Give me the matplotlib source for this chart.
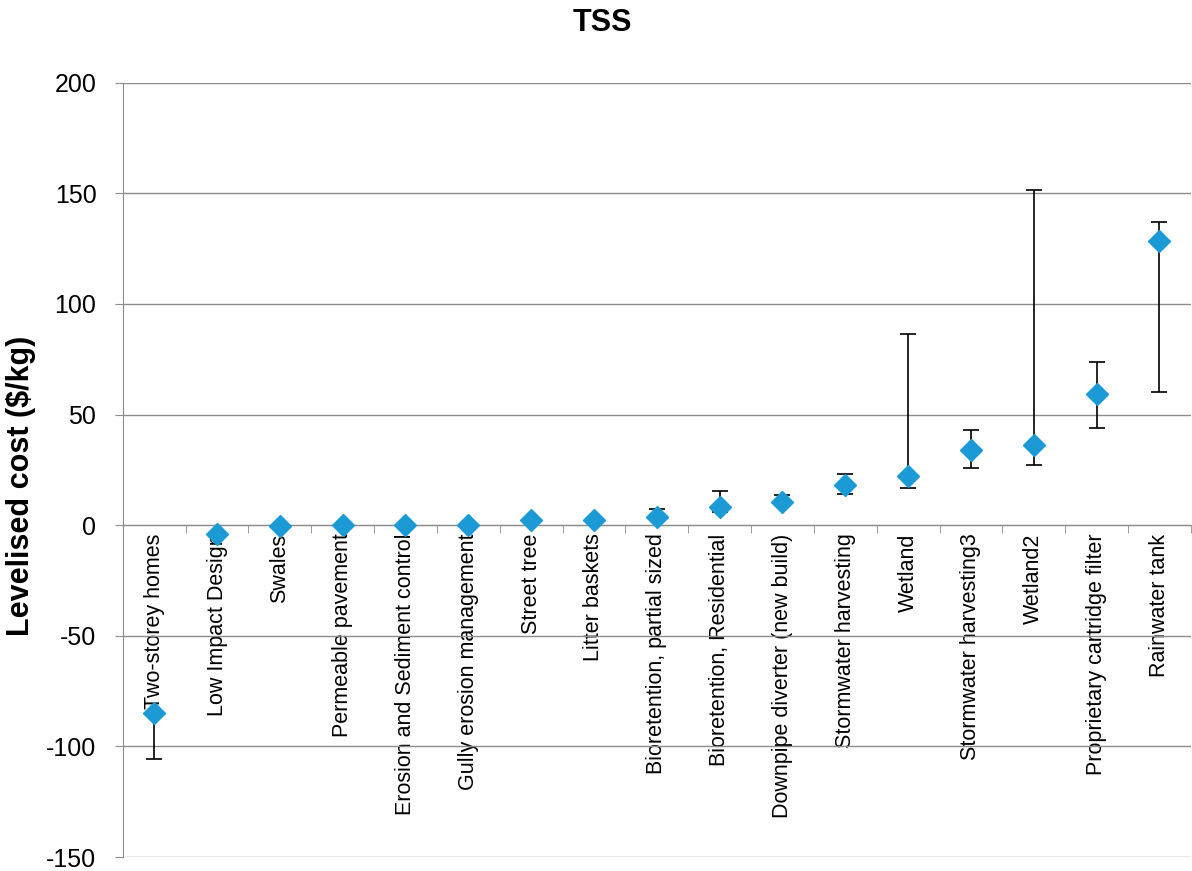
import numpy as np
import matplotlib.pyplot as plt
from matplotlib.ticker import MultipleLocator

plt.rcParams['font.family'] = ['Liberation Sans', 'DejaVu Sans']
plt.rcParams['axes.unicode_minus'] = False

categories = ['Two-storey homes', 'Low Impact Design', 'Swales', 'Permeable pavement',
              'Erosion and Sediment control', 'Gully erosion management', 'Street tree',
              'Litter baskets', 'Bioretention, partial sized', 'Bioretention, Residential',
              'Downpipe diverter (new build)', 'Stormwater harvesting', 'Wetland',
              'Stormwater harvesting3', 'Wetland2', 'Proprietary cartridge filter',
              'Rainwater tank']
cost = [-85, -4, -0.5, 0, 0, 0, 2.4, 2.4, 3.9, 8.4, 10.7, 18.2, 22.3, 34, 36.3, 59.2, 128.3]
cost_low = [-105.5, -4, -0.5, 0, 0, 0, 2.4, 2.4, 2.5, 6.0, 9.0, 14.2, 17.0, 26.0, 27.0, 43.9, 60.0]
cost_high = [-85, -4, -0.5, 0, 0, 0, 2.4, 2.4, 7.2, 15.5, 13.7, 23.2, 86.4, 43.0, 151.3, 73.7, 136.9]

x = np.arange(len(categories))
cost = np.array(cost)
yerr = [cost - np.array(cost_low), np.array(cost_high) - cost]

fig = plt.figure(figsize=(11.92, 8.71), dpi=100)
ax = fig.add_axes([0.103, 0.016, 0.896, 0.889])

ax.errorbar(x, cost, yerr=yerr, fmt='none', ecolor='black', elinewidth=1.2,
            capsize=6, capthick=1.2, zorder=3)
ax.plot(x, cost, linestyle='none', marker='D', markersize=11,
        color='#1b9ad6', markeredgecolor='#1b9ad6', zorder=4)

ax.set_xlim(-0.5, len(categories) - 0.5)
ax.set_ylim(-150, 200)
ax.yaxis.set_major_locator(MultipleLocator(50))
ax.grid(axis='y', color='#8c8c8c', linewidth=1)
ax.set_axisbelow(True)

# x axis sits on the zero line, labels hang below it
for s in ['top', 'right']:
    ax.spines[s].set_visible(False)
ax.spines['bottom'].set_position(('data', 0))
ax.spines['bottom'].set_color('#8c8c8c')
ax.spines['left'].set_color('#8c8c8c')

ax.set_xticks(x)
ax.set_xticklabels(categories, rotation=90, fontsize=15.5, va='top', ha='center')
ax.tick_params(axis='x', which='major', length=0, pad=6)
ax.set_xticks(np.arange(len(categories) + 1) - 0.5, minor=True)
ax.tick_params(axis='x', which='minor', length=6, color='#8c8c8c', direction='out')
ax.tick_params(axis='y', length=6, color='#8c8c8c', labelsize=18, pad=13)

ax.set_ylabel('Levelised cost ($/kg)', fontsize=22, fontweight='bold')
ax.yaxis.set_label_coords(-0.081, 0.48)
fig.text(0.505, 0.974, 'TSS', fontsize=22, fontweight='bold', ha='center', va='center')

fig.savefig('out.png', dpi=100)
